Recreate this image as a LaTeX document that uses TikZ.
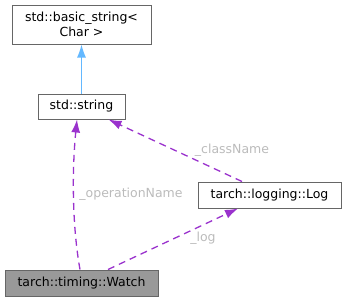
\documentclass[tikz,border=0pt]{standalone}
\usepackage{fontspec}
\setmainfont{DejaVu Sans}
\usetikzlibrary{arrows.meta}

\definecolor{edgeblue}{HTML}{63B8FF}
\definecolor{edgepurple}{HTML}{9A32CD}
\definecolor{labelgray}{HTML}{BBBBBB}
\definecolor{boxgray}{HTML}{666666}
\definecolor{fillgray}{HTML}{999999}

\tikzset{
  cls/.style={draw=boxgray, line width=1pt, fill=white, inner sep=0pt,
    font=\fontsize{12.5}{14.5}\selectfont, align=center},
  inherit/.style={edgeblue, line width=1.3pt, -{Latex[length=13pt,width=9pt]}},
  usage/.style={edgepurple, line width=1.3pt, dash pattern=on 7pt off 5pt,
    -{Latex[length=13pt,width=9pt]}},
  edgelabel/.style={labelgray, font=\fontsize{12.5}{14.5}\selectfont, inner sep=0pt}
}

\begin{document}
\begin{tikzpicture}[x=1pt,y=-1pt]
\useasboundingbox (0,0) rectangle (347,301);

\node[cls, minimum width=139pt, minimum height=39pt] (basic) at (81.5,24.5)
  {std::basic\_string<\\Char >};
\node[cls, minimum width=87pt, minimum height=25pt] (string) at (81.5,106.5) {std::string};
\node[cls, minimum width=143pt, minimum height=26pt] (log) at (269.5,195) {tarch::logging::Log};
\node[cls, fill=fillgray, minimum width=153pt, minimum height=26pt] (watch) at (81.5,283)
  {tarch::timing::Watch};

% inheritance
\draw[inherit] (string.north) -- (basic.south);

% members
\draw[usage] ([xshift=-1.5pt]watch.north) .. controls (72,225) and (72,170)
  .. ([xshift=-4.5pt]string.south);
\draw[usage] ([xshift=-27.5pt]log.north) -- ([xshift=27pt]string.south);
\draw[usage] ([xshift=26.5pt]watch.north) -- ([xshift=-31.5pt]log.south);

\node[edgelabel] (lopname) at (131,194) {\_operationName};
\node[edgelabel] (lclass) at (232,150) {\_className};
\node[edgelabel] (llog) at (203,238) {\_log};
\end{tikzpicture}
\end{document}
